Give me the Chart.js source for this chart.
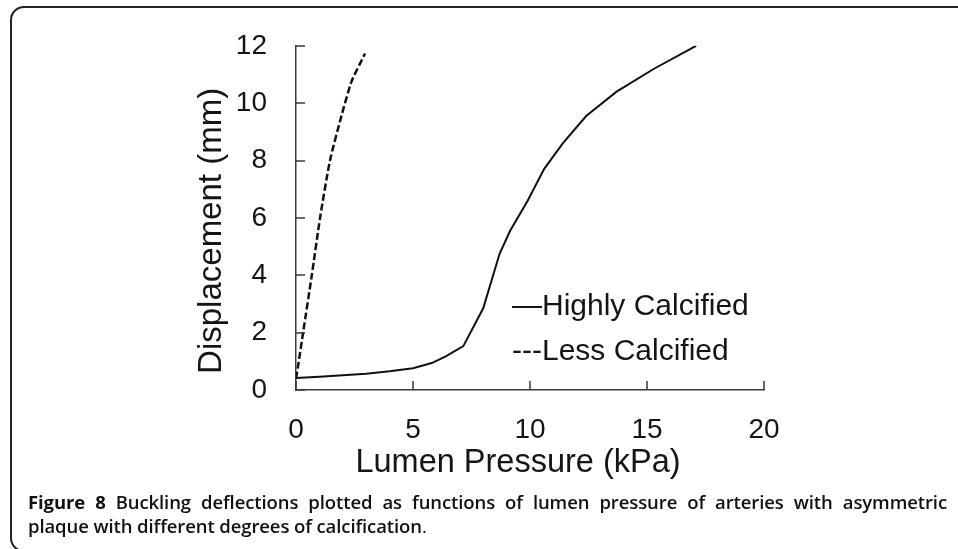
<!DOCTYPE html>
<html>
<head>
<meta charset="utf-8">
<script src="https://cdn.jsdelivr.net/npm/chart.js@4"></script>
<style>
  html, body { margin: 0; padding: 0; background: #fff; }
  #page { position: relative; width: 958px; height: 549px; overflow: hidden; }
  #frame {
    position: absolute; left: 10px; top: 6px; width: 1000px; height: 546px;
    border: 2px solid #222; border-radius: 14px; box-sizing: border-box;
  }
  #chart { position: absolute; left: 0; top: 0; }
  #caption {
    position: absolute; left: 28px; top: 490px; width: 919px;
    font-family: "Open Sans", sans-serif; font-size: 18.5px; line-height: 24px;
    color: #111; font-weight: 600; letter-spacing: -0.1px;
  }
  #caption .l1 { display: block; text-align: justify; text-align-last: justify; white-space: nowrap; }
  #caption b { font-weight: 700; }
  #caption .dot { font-weight: 400; }
</style>
</head>
<body>
<div id="page">
  <div id="frame"></div>
  <canvas id="chart" width="958" height="549"></canvas>
  <div id="caption">
    <span class="l1"><b>Figure 8</b> Buckling deflections plotted as functions of lumen pressure of arteries with asymmetric</span>
    <span>plaque with different degrees of calcification</span><span class="dot">.</span>
  </div>
</div>
<script>
// Chart data
const seriesNames = ['Highly Calcified', 'Less Calcified'];
const highlyPressure = [0, 1, 2, 3, 4, 5, 5.8, 6.4, 7.15, 8.0, 8.7, 9.15, 9.9, 10.6, 11.4, 12.4, 13.7, 15.3, 17.1];
const highlyDisp = [0.42, 0.46, 0.51, 0.57, 0.65, 0.76, 0.94, 1.17, 1.53, 2.85, 4.75, 5.55, 6.6, 7.7, 8.6, 9.55, 10.4, 11.2, 12.0];
const lessPressure = [0, 0.1, 0.31, 0.67, 1.03, 1.45, 1.95, 2.38, 2.95];
const lessDisp = [0.4, 0.9, 2.04, 3.97, 6.01, 7.99, 9.58, 10.77, 11.73];
const xTicks = [0, 5, 10, 15, 20];
const yTicks = [0, 2, 4, 6, 8, 10, 12];
const xTitle = 'Lumen Pressure (kPa)';
const yTitle = 'Displacement (mm)';

const FONT = '"Liberation Sans", Arial, sans-serif';
const INK = '#151515';
const AXIS = '#3a3a3a';

function toPoints(xs, ys) {
  return xs.map((x, i) => ({ x: x, y: ys[i] }));
}

// Draws the tick marks inside the plot, the axis titles and the text legend
const decorations = {
  id: 'decorations',
  afterDraw(chart) {
    const ctx = chart.ctx;
    const area = chart.chartArea;
    const xs = chart.scales.x;
    const ys = chart.scales.y;
    ctx.save();
    ctx.strokeStyle = AXIS;
    ctx.lineWidth = 1.5;
    ctx.beginPath();
    xTicks.forEach((v) => {
      const px = Math.round(xs.getPixelForValue(v));
      ctx.moveTo(px, area.bottom);
      ctx.lineTo(px, area.bottom - 9);
    });
    yTicks.forEach((v) => {
      const py = Math.round(ys.getPixelForValue(v));
      ctx.moveTo(area.left, py);
      ctx.lineTo(area.left + 9, py);
    });
    ctx.stroke();

    ctx.fillStyle = INK;
    ctx.textBaseline = 'middle';
    // x title
    ctx.font = '32.5px ' + FONT;
    ctx.textAlign = 'center';
    ctx.fillText(xTitle, (area.left + area.right) / 2 - 12, area.bottom + 73);
    // y title
    ctx.font = '33px ' + FONT;
    ctx.save();
    ctx.translate(area.left - 84, (area.top + area.bottom) / 2 + 13);
    ctx.rotate(-Math.PI / 2);
    ctx.fillText(yTitle, 0, 0);
    ctx.restore();

    // legend as plain text
    ctx.font = '30px ' + FONT;
    ctx.textAlign = 'left';
    chart.data.datasets.forEach((ds, i) => {
      const prefix = ds.borderDash && ds.borderDash.length ? '---' : '\u2014';
      ctx.fillText(prefix + ds.label, area.left + 216, 307 + i * 45);
    });
    ctx.restore();
  }
};

const ctx = document.getElementById('chart').getContext('2d');
new Chart(ctx, {
  type: 'line',
  data: {
    datasets: [{
      label: seriesNames[0],
      data: toPoints(highlyPressure, highlyDisp),
      borderColor: '#111',
      borderWidth: 2,
      pointRadius: 0,
      tension: 0,
      fill: false
    }, {
      label: seriesNames[1],
      data: toPoints(lessPressure, lessDisp),
      borderColor: '#111',
      borderWidth: 2.5,
      borderDash: [7, 3],
      pointRadius: 0,
      tension: 0.2,
      fill: false
    }]
  },
  options: {
    responsive: false,
    animation: false,
    events: [],
    layout: { padding: { left: 0, top: 37, right: 194, bottom: 0 } },
    plugins: {
      legend: { display: false },
      tooltip: { enabled: false }
    },
    scales: {
      x: {
        type: 'linear',
        min: 0,
        max: 20,
        afterBuildTicks: (s) => { s.ticks = xTicks.map((v) => ({ value: v })); },
        afterFit: (s) => { s.height = 159; },
        grid: { display: false, drawTicks: false },
        border: { display: true, color: AXIS, width: 1.5 },
        ticks: { color: INK, font: { family: FONT, size: 28 }, padding: 23, maxRotation: 0 }
      },
      y: {
        type: 'linear',
        min: 0,
        max: 12,
        afterBuildTicks: (s) => { s.ticks = yTicks.map((v) => ({ value: v })); },
        afterFit: (s) => { s.width = 296; },
        grid: { display: false, drawTicks: false },
        border: { display: true, color: AXIS, width: 1.5 },
        ticks: { color: INK, font: { family: FONT, size: 28 }, padding: 29 }
      }
    }
  },
  plugins: [decorations]
});
</script>
</body>
</html>
